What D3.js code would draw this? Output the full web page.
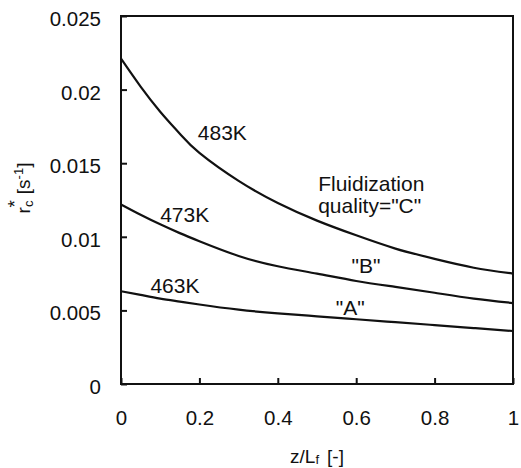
<!DOCTYPE html>
<html>
<head>
<meta charset="utf-8">
<script src="https://cdn.jsdelivr.net/npm/d3@7"></script>
<style>
  html, body { margin: 0; padding: 0; background: #fff; }
  svg { display: block; font-family: "Liberation Sans", Arial, sans-serif; }
</style>
</head>
<body>
<div id="chart"></div>
<script>
// values
const zPoints = [0, 0.05, 0.1, 0.15, 0.2, 0.3, 0.4, 0.5, 0.6, 0.7, 0.8, 0.9, 1.0];
const rate483 = [0.0221, 0.0202, 0.0185, 0.0170, 0.0157, 0.0138, 0.0123, 0.0111, 0.0101, 0.0092, 0.0085, 0.0079, 0.0075];
const rate473 = [0.0122, 0.0115, 0.01085, 0.01025, 0.0097, 0.0087, 0.0080, 0.0075, 0.0070, 0.0066, 0.0062, 0.0058, 0.0055];
const rate463 = [0.0063, 0.00605, 0.0058, 0.0056, 0.0054, 0.00505, 0.0048, 0.0046, 0.0044, 0.0042, 0.0040, 0.0038, 0.0036];

const xTicks = [0, 0.2, 0.4, 0.6, 0.8, 1];
const yTicks = [0, 0.005, 0.01, 0.015, 0.02, 0.025];

const width = 521, height = 468;
const margin = { top: 16, right: 8, bottom: 84, left: 121 };
const plotW = width - margin.left - margin.right;   // 392
const plotH = height - margin.top - margin.bottom;  // 368

const x = d3.scaleLinear().domain([0, 1]).range([0, plotW]);
const y = d3.scaleLinear().domain([0, 0.025]).range([plotH, 0]);

const svg = d3.select("#chart").append("svg")
  .attr("width", width)
  .attr("height", height);

const g = svg.append("g").attr("transform", `translate(${margin.left},${margin.top})`);

// axes with inward ticks
const xAxis = g.append("g")
  .attr("transform", `translate(0,${plotH})`)
  .call(d3.axisBottom(x).tickValues(xTicks).tickSizeInner(-6).tickSizeOuter(0).tickPadding(0)
    .tickFormat(d => d3.format("~g")(d)));
xAxis.selectAll("text").attr("y", 41).attr("dy", null);

const yAxis = g.append("g")
  .call(d3.axisLeft(y).tickValues(yTicks).tickSizeInner(-6).tickSizeOuter(0)
    .tickFormat(d => d3.format("~g")(d)));
yAxis.selectAll("text").attr("x", -20).attr("dy", "9.5");

[xAxis, yAxis].forEach(a => {
  a.select(".domain").remove();
  a.selectAll("line").attr("stroke", "#111").attr("stroke-width", 2);
  a.selectAll("text").attr("font-size", 20.5).attr("fill", "#111")
    .attr("font-family", "Liberation Sans, Arial, sans-serif");
});

// frame
g.append("rect")
  .attr("width", plotW).attr("height", plotH)
  .attr("fill", "none").attr("stroke", "#111").attr("stroke-width", 2);

// curves
const line = d3.line()
  .x(d => x(d[0]))
  .y(d => y(d[1]))
  .curve(d3.curveNatural);

[rate483, rate473, rate463].forEach(series => {
  g.append("path")
    .datum(zPoints.map((z, i) => [z, series[i]]))
    .attr("d", line)
    .attr("fill", "none")
    .attr("stroke", "#111")
    .attr("stroke-width", 2.2);
});

// labels on curves
const notes = [
  { text: "483K", z: 0.196, v: 0.0166 },
  { text: "473K", z: 0.1, v: 0.0110 },
  { text: "463K", z: 0.075, v: 0.0062 },
  { text: "Fluidization", z: 0.503, v: 0.0131 },
  { text: "quality=\"C\"", z: 0.503, v: 0.01165 },
  { text: "\"B\"", z: 0.625, v: 0.00753, anchor: "middle" },
  { text: "\"A\"", z: 0.585, v: 0.00468, anchor: "middle" }
];
g.selectAll("text.note")
  .data(notes)
  .enter().append("text")
  .attr("class", "note")
  .attr("x", d => x(d.z))
  .attr("y", d => y(d.v))
  .attr("text-anchor", d => d.anchor || "start")
  .attr("font-size", 21)
  .attr("fill", "#111")
  .text(d => d.text);

// axis titles
const xt = svg.append("text")
  .attr("x", margin.left + plotW / 2)
  .attr("y", 463)
  .attr("text-anchor", "middle")
  .attr("font-size", 19)
  .attr("fill", "#111");
xt.append("tspan").text("z/L");
xt.append("tspan").attr("font-size", 13).attr("baseline-shift", "-10%").text("f");
xt.append("tspan").attr("dx", 8).text("[-]");

const yt = svg.append("text")
  .attr("transform", "translate(30,188) rotate(-90)")
  .attr("text-anchor", "middle")
  .attr("font-size", 19)
  .attr("fill", "#111");
yt.append("tspan").text("r");
yt.append("tspan").attr("font-size", 13).attr("baseline-shift", "-25%").text("c");
yt.append("tspan").attr("dx", -7).attr("baseline-shift", "45%").text("*");
yt.append("tspan").attr("dx", 6).text("[s");
yt.append("tspan").attr("font-size", 13).attr("baseline-shift", "55%").text("-1");
yt.append("tspan").text("]");
</script>
</body>
</html>
